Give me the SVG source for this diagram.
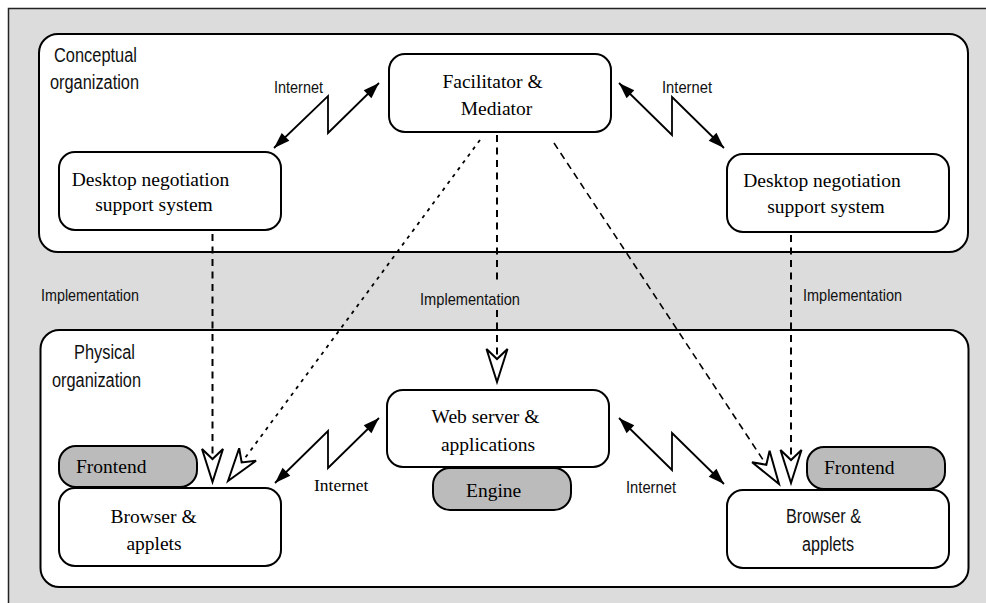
<svg xmlns="http://www.w3.org/2000/svg" width="986" height="603" viewBox="0 0 986 603">
<style>
.box{fill:#fff;stroke:#000;stroke-width:2}
.gbox{fill:#bbbbbb;stroke:#000;stroke-width:2}
.serif{font-family:"Liberation Serif","Times New Roman",serif;font-size:19.5px;fill:#000}
.sans{font-family:"Liberation Sans",Arial,sans-serif;fill:#111}
.lbl{font-size:17px}
.big{font-size:19.5px}
.net{fill:none;stroke:#000;stroke-width:1.8;stroke-linejoin:miter;marker-start:url(#solid);marker-end:url(#solid)}
.impl{fill:none;stroke:#000;stroke-width:2;stroke-dasharray:7 5.5}
.dot{fill:none;stroke:#000;stroke-width:1.8;stroke-dasharray:3.5 5}
.dash{fill:none;stroke:#000;stroke-width:1.6;stroke-dasharray:7 5}
</style>
<defs>
<marker id="solid" markerUnits="userSpaceOnUse" markerWidth="40" markerHeight="40" refX="0" refY="0" orient="auto-start-reverse" overflow="visible">
<path d="M0,0 L-16,-5.5 L-16,5.5 Z" fill="#000" stroke="none"/>
</marker>
<marker id="open" markerUnits="userSpaceOnUse" markerWidth="60" markerHeight="60" refX="0" refY="0" orient="auto" overflow="visible">
<path d="M0,0 L-33,-10.5 L-23,0 L-33,10.5 Z" fill="#fff" stroke="#000" stroke-width="2" stroke-dasharray="none" stroke-linejoin="miter"/>
</marker>
</defs>
<rect x="0" y="0" width="986" height="603" fill="#fff"/>
<rect x="8.5" y="8.5" width="990" height="610" fill="#dcdcdc"/>
<path d="M8.5,620 V8.5 H1000" fill="none" stroke="#222" stroke-width="1.5"/>

<g id="conceptual">
<rect class="box" x="39" y="34" width="929" height="218" rx="19"/>
<text class="sans big" x="54" y="62" textLength="83" lengthAdjust="spacingAndGlyphs">Conceptual</text>
<text class="sans big" x="50" y="89" textLength="89" lengthAdjust="spacingAndGlyphs">organization</text>
</g>
<g id="physical">
<rect class="box" x="40.5" y="330" width="928" height="257" rx="19"/>
<text class="sans big" x="74" y="359" textLength="61" lengthAdjust="spacingAndGlyphs">Physical</text>
<text class="sans big" x="52" y="387" textLength="89" lengthAdjust="spacingAndGlyphs">organization</text>
</g>

<g id="facilitator">
<rect class="box" x="389" y="54" width="222" height="78" rx="16"/>
<text class="serif" x="492.5" y="88" text-anchor="middle">Facilitator &amp;</text>
<text class="serif" x="496.5" y="115" text-anchor="middle">Mediator</text>
</g>
<g id="desktop-left">
<rect class="box" x="59" y="152" width="222" height="78" rx="16"/>
<text class="serif" x="150.5" y="186" text-anchor="middle">Desktop negotiation</text>
<text class="serif" x="154" y="211" text-anchor="middle">support system</text>
</g>
<g id="desktop-right">
<rect class="box" x="727" y="154" width="222" height="78" rx="16"/>
<text class="serif" x="822" y="187" text-anchor="middle">Desktop negotiation</text>
<text class="serif" x="826" y="213" text-anchor="middle">support system</text>
</g>
<g id="webserver">
<rect class="box" x="387" y="390" width="222" height="77" rx="16"/>
<text class="serif" x="485.5" y="423" text-anchor="middle">Web server &amp;</text>
<text class="serif" x="488" y="451" text-anchor="middle">applications</text>
</g>
<g id="engine">
<rect class="gbox" x="433" y="468" width="138" height="42" rx="17"/>
<text class="serif" x="466" y="497">Engine</text>
</g>
<g id="frontend-left">
<rect class="gbox" x="59" y="446" width="138" height="41" rx="17"/>
<text class="serif" x="76" y="473">Frontend</text>
</g>
<g id="browser-left">
<rect class="box" x="59" y="488" width="222" height="78" rx="16"/>
<text class="serif" x="153.5" y="523" text-anchor="middle">Browser &amp;</text>
<text class="serif" x="154" y="550" text-anchor="middle">applets</text>
</g>
<g id="frontend-right">
<rect class="gbox" x="807" y="447" width="138" height="42" rx="17"/>
<text class="serif" x="824" y="474">Frontend</text>
</g>
<g id="browser-right">
<rect class="box" x="727" y="490" width="222" height="78" rx="16"/>
<text class="sans big" x="786" y="523" textLength="75" lengthAdjust="spacingAndGlyphs" style="font-size:20px">Browser &amp;</text>
<text class="sans big" x="802" y="551" textLength="52" lengthAdjust="spacingAndGlyphs" style="font-size:20px">applets</text>
</g>

<g id="connectors">
<polyline class="net" points="274,148 328,96 328,133 379,83"/>
<polyline class="net" points="619,83 672,135 672,97 724,148"/>
<polyline class="net" points="275,483 328,431 328,468 379,418"/>
<polyline class="net" points="619,418 672,470 672,433 724,484"/>
<line class="impl" x1="212.5" y1="234" x2="212.5" y2="482" marker-end="url(#open)"/>
<line class="impl" x1="497" y1="135" x2="497" y2="284"/>
<line class="impl" x1="497" y1="310" x2="497" y2="382" marker-end="url(#open)"/>
<line class="impl" x1="791" y1="235" x2="791" y2="483" marker-end="url(#open)"/>
<line class="dot" x1="480" y1="140" x2="228" y2="481" marker-end="url(#open)"/>
<line class="dash" x1="554" y1="143" x2="779" y2="484" marker-end="url(#open)"/>
<text class="sans lbl" x="274" y="93" textLength="49" lengthAdjust="spacingAndGlyphs">Internet</text>
<text class="sans lbl" x="662" y="93" textLength="50" lengthAdjust="spacingAndGlyphs">Internet</text>
<text class="serif" x="314" y="491" style="font-size:17.5px">Internet</text>
<text class="sans lbl" x="626" y="493" textLength="50" lengthAdjust="spacingAndGlyphs">Internet</text>
<text class="sans lbl" x="41" y="301" textLength="98" lengthAdjust="spacingAndGlyphs">Implementation</text>
<text class="sans lbl" x="420" y="305" textLength="100" lengthAdjust="spacingAndGlyphs">Implementation</text>
<text class="sans lbl" x="803" y="301" textLength="99" lengthAdjust="spacingAndGlyphs">Implementation</text>
</g>
</svg>
